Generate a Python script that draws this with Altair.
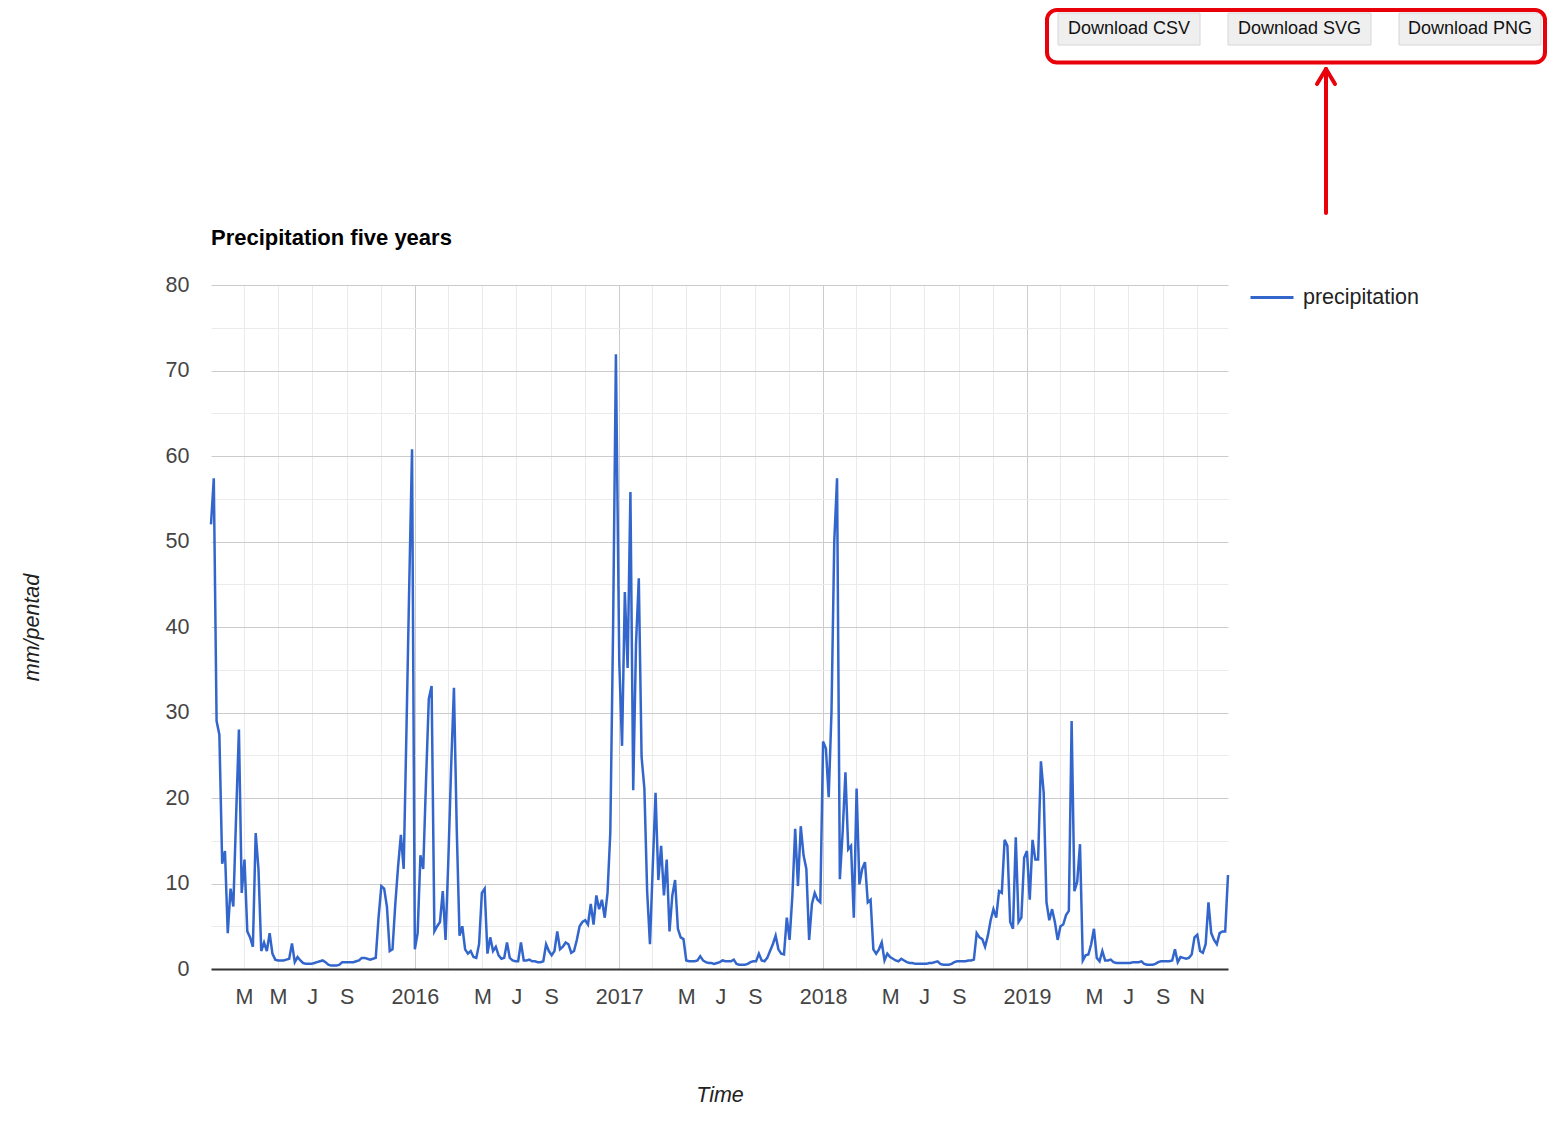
import altair as alt
import pandas as pd

BLUE = "#3366cc"
RED = "#e8000b"
GRID_MAJOR = "#cccccc"
GRID_MINOR = "#ebebeb"
LABEL_GRAY = "#444444"
TEXT_DARK = "#222222"
FONT = "Liberation Sans, Arial, sans-serif"

YEARS = [2015, 2016, 2017, 2018, 2019]

# five-day (pentad) totals in mm, 73 pentads per year
P2015 = [52.0, 57.4, 29.0, 27.4, 12.3, 13.8, 4.2, 9.4, 7.3, 18.0,
         28.0, 8.9, 12.8, 4.4, 3.7, 2.6, 15.9, 11.7, 2.1, 3.1,
         2.1, 4.2, 1.8, 1.1, 1.0, 1.0, 1.0, 1.1, 1.2, 3.0,
         0.8, 1.4, 1.0, 0.7, 0.6, 0.6, 0.6, 0.7, 0.8, 0.9,
         1.0, 0.8, 0.5, 0.4, 0.4, 0.4, 0.5, 0.8, 0.8, 0.8,
         0.8, 0.8, 0.9, 1.0, 1.3, 1.3, 1.2, 1.1, 1.2, 1.3,
         6.0, 9.7, 9.4, 7.3, 2.1, 2.3, 7.6, 12.0, 15.7, 11.7,
         28.0, 45.0, 60.8]
P2016 = [2.3, 4.2, 13.3, 11.7, 22.0, 31.6, 33.1, 4.4, 5.0, 5.5,
         9.1, 3.4, 12.8, 23.7, 32.9, 16.4, 3.9, 5.0, 2.3, 1.8,
         2.1, 1.4, 1.3, 2.9, 8.9, 9.4, 1.8, 3.7, 2.1, 2.6,
         1.6, 1.2, 1.3, 3.1, 1.3, 1.0, 0.9, 0.9, 3.1, 1.0,
         1.0, 1.1, 0.9, 0.9, 0.8, 0.8, 0.9, 2.9, 2.1, 1.6,
         2.1, 4.4, 2.3, 2.6, 3.1, 2.9, 1.9, 2.1, 3.4, 5.0,
         5.5, 5.7, 5.2, 7.6, 5.2, 8.6, 7.0, 8.1, 6.0, 8.9,
         16.0, 40.0, 71.9]
P2017 = [36.0, 26.1, 44.1, 35.2, 55.8, 20.9, 38.0, 45.7, 24.8, 21.1,
         9.0, 2.9, 12.0, 20.6, 10.4, 14.4, 8.6, 12.8, 4.4, 8.6,
         10.4, 4.7, 3.7, 3.5, 1.0, 0.9, 0.9, 0.9, 1.0, 1.5,
         1.0, 0.8, 0.7, 0.7, 0.6, 0.7, 0.8, 1.0, 0.9, 0.9,
         0.9, 1.1, 0.6, 0.5, 0.5, 0.5, 0.6, 0.8, 0.9, 0.9,
         1.8, 1.0, 0.9, 1.3, 2.1, 2.9, 3.9, 2.3, 1.8, 1.7,
         6.0, 3.4, 8.6, 16.4, 9.7, 16.7, 13.3, 11.7, 3.4, 7.6,
         8.9, 8.1, 7.8]
P2018 = [26.6, 25.8, 20.1, 30.0, 50.0, 57.4, 10.5, 16.0, 23.0, 14.0,
         14.4, 6.0, 21.1, 9.9, 11.7, 12.5, 7.8, 8.1, 2.3, 1.8,
         2.3, 3.1, 1.0, 1.8, 1.4, 1.2, 1.0, 0.9, 1.2, 1.0,
         0.8, 0.7, 0.7, 0.6, 0.6, 0.6, 0.6, 0.6, 0.7, 0.7,
         0.8, 0.9, 0.6, 0.5, 0.5, 0.5, 0.6, 0.8, 0.9, 0.9,
         0.9, 0.9, 1.0, 1.0, 1.1, 4.2, 3.7, 3.5, 2.6, 3.9,
         5.7, 7.0, 6.0, 9.1, 8.9, 15.1, 14.4, 5.5, 4.7, 15.4,
         5.5, 6.0, 13.0]
P2019 = [13.8, 8.1, 15.1, 12.8, 12.8, 24.3, 20.6, 7.8, 5.7, 7.0,
         5.5, 3.4, 5.0, 5.2, 6.3, 6.8, 29.0, 9.1, 10.2, 14.6,
         1.0, 1.6, 1.7, 2.9, 4.7, 1.3, 0.9, 2.1, 1.0, 1.0,
         1.1, 0.8, 0.7, 0.7, 0.7, 0.7, 0.7, 0.7, 0.8, 0.8,
         0.8, 0.9, 0.6, 0.5, 0.5, 0.5, 0.6, 0.8, 0.9, 0.9,
         0.9, 0.9, 1.0, 2.3, 0.8, 1.4, 1.3, 1.2, 1.3, 1.7,
         3.7, 4.0, 2.1, 1.9, 2.9, 7.8, 4.2, 3.4, 2.9, 4.2,
         4.4, 4.4, 11.0]
PENTADS = [P2015, P2016, P2017, P2018, P2019]

X_TICKS = ["2015-03", "2015-05", "2015-07", "2015-09", "2015-11",
           "2016-01", "2016-03", "2016-05", "2016-07", "2016-09", "2016-11",
           "2017-01", "2017-03", "2017-05", "2017-07", "2017-09", "2017-11",
           "2018-01", "2018-03", "2018-05", "2018-07", "2018-09", "2018-11",
           "2019-01", "2019-03", "2019-05", "2019-07", "2019-09", "2019-11"]
X_TICK_LABELS = ["M", "M", "J", "S", "",
                 "2016", "", "M", "J", "S", "",
                 "2017", "", "M", "J", "S", "",
                 "2018", "", "M", "J", "S", "",
                 "2019", "", "M", "J", "S", "N"]
Y_TICKS = [0, 5, 10, 15, 20, 25, 30, 35, 40, 45, 50, 55, 60, 65, 70, 75, 80]

TITLE = "Precipitation five years"
SERIES = "precipitation"
BUTTONS = ["Download CSV", "Download SVG", "Download PNG"]

# layout in pixels, relative to the plot area's top-left corner
W, H = 1017, 684
FS = 21.5
BUTTON_X = [(847, 989), (1017, 1160), (1188, 1330)]
BUTTON_Y = (-272, -240)

rows = []
for year, values in zip(YEARS, PENTADS):
    start = pd.Timestamp(year=year, month=1, day=1)
    for i, v in enumerate(values):
        day = start + pd.Timedelta(days=5 * i)
        rows.append({"date": day.strftime("%Y-%m-%d"), "precipitation": v, "series": SERIES})
df = pd.DataFrame(rows)

first = pd.Timestamp(df["date"].iloc[0])
last = pd.Timestamp(df["date"].iloc[-1])
x_domain = [alt.DateTime(year=d.year, month=d.month, date=d.day, utc=True) for d in (first, last)]
x_values = [alt.DateTime(year=int(t[:4]), month=int(t[5:]), date=1, utc=True) for t in X_TICKS]

# tick label lookup as a chain of ternaries
x_label_expr = "''"
for key, lab in zip(reversed(X_TICKS), reversed(X_TICK_LABELS)):
    if lab:
        x_label_expr = f"utcFormat(datum.value, '%Y-%m') === '{key}' ? '{lab}' : ({x_label_expr})"

x_axis = alt.Axis(
    values=x_values, labelExpr=x_label_expr,
    ticks=False, domainColor="#333333", domainWidth=2,
    gridColor={"condition": {"test": "utcmonth(datum.value) === 0", "value": GRID_MAJOR},
               "value": GRID_MINOR},
    labelFontSize=FS, labelColor=LABEL_GRAY, labelPadding=17,
    labelFlush=False, labelOverlap=False,
    titleFontSize=FS, titleFontStyle="italic", titleFontWeight="normal", titleColor=TEXT_DARK,
    titleX=W / 2, titleY=132, titleAlign="center", titleBaseline="alphabetic",
)
y_axis = alt.Axis(
    values=Y_TICKS, labelExpr="datum.value % 10 === 0 ? datum.label : ''",
    domain=False, ticks=False,
    gridColor={"condition": {"test": "datum.value % 10 === 0", "value": GRID_MAJOR},
               "value": GRID_MINOR},
    labelFontSize=FS, labelColor=LABEL_GRAY, labelPadding=22,
    titleFontSize=FS, titleFontStyle="italic", titleFontWeight="normal", titleColor=TEXT_DARK,
    titleX=-173, titleY=H / 2, titleAngle=270, titleAlign="center", titleBaseline="alphabetic",
)

line = alt.Chart(df).mark_line(strokeWidth=2.5).encode(
    x=alt.X("date:T", title="Time",
            scale=alt.Scale(type="utc", domain=x_domain, nice=False), axis=x_axis),
    y=alt.Y("precipitation:Q", title="mm/pentad",
            scale=alt.Scale(domain=[0, 80], nice=False), axis=y_axis),
    color=alt.Color("series:N", title=None,
                    scale=alt.Scale(domain=[SERIES], range=[BLUE]),
                    legend=alt.Legend(orient="none", legendX=1038, legendY=-10.5,
                                      symbolType="stroke", symbolSize=1849,
                                      symbolStrokeWidth=3, labelFontSize=FS,
                                      labelColor=TEXT_DARK, labelOffset=8)),
)

one = pd.DataFrame({"k": [0]})

title_text = alt.Chart(pd.DataFrame({"label": [TITLE]})).mark_text(
    align="left", baseline="alphabetic", fontSize=22, fontWeight="bold", color="#000000"
).encode(x=alt.value(0), y=alt.value(-40), text="label:N")

layers = [line, title_text]

for name, (bx, bx2) in zip(BUTTONS, BUTTON_X):
    layers.append(
        alt.Chart(one).mark_rect(fill="#efefef", stroke="#d6d6d6", strokeWidth=1).encode(
            x=alt.value(bx), x2=alt.value(bx2),
            y=alt.value(BUTTON_Y[0]), y2=alt.value(BUTTON_Y[1]))
    )
    layers.append(
        alt.Chart(pd.DataFrame({"label": [name]})).mark_text(
            align="center", baseline="middle", fontSize=18, color="#111111"
        ).encode(x=alt.value((bx + bx2) / 2), y=alt.value(-256.5), text="label:N")
    )

# red highlight box and arrow pointing at the buttons
layers.append(
    alt.Chart(one).mark_rect(filled=False, stroke=RED, strokeWidth=4, cornerRadius=10).encode(
        x=alt.value(836), x2=alt.value(1334), y=alt.value(-275), y2=alt.value(-222.5))
)
for (ax, ay, ax2, ay2) in [(1115, -72, 1115, -216), (1106, -201, 1115, -216), (1124, -201, 1115, -216)]:
    layers.append(
        alt.Chart(one).mark_rule(color=RED, strokeWidth=4, strokeCap="round").encode(
            x=alt.value(ax), y=alt.value(ay), x2=alt.value(ax2), y2=alt.value(ay2))
    )

chart = (
    alt.layer(*layers)
    .properties(width=W, height=H, padding={"left": 13, "top": 0, "right": 0, "bottom": 5})
    .configure(font=FONT)
    .configure_view(strokeWidth=0)
)

chart.save("out.html", embed_options={"renderer": "svg", "actions": False})
